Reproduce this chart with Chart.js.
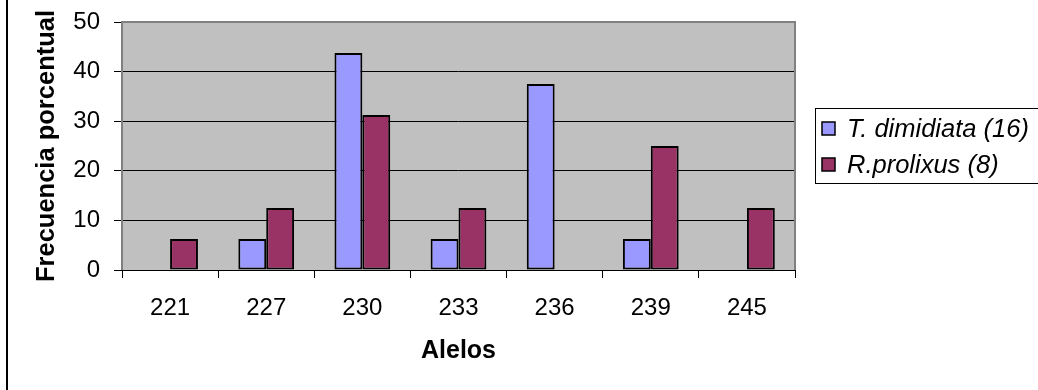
<!DOCTYPE html>
<html lang="es">
<head>
    <meta charset="UTF-8">
    <title>Frecuencia de alelos</title>
    <style>
        body {
            margin: 0;
            padding: 0;
            background-color: #ffffff;
            overflow: hidden;
        }
        #wrap {
            width: 1038px;
            height: 390px;
        }
    </style>
    <script src="https://cdn.jsdelivr.net/npm/chart.js"></script>
</head>
<body>
    <div id="wrap">
        <canvas id="alelosChart" width="1038" height="390"></canvas>
    </div>

    <script>
        // Alleles and percentage frequency per species
        const alelos = ['221', '227', '230', '233', '236', '239', '245'];
        const tDimidiata = [0, 6.25, 43.75, 6.25, 37.5, 6.25, 0];
        const rProlixus = [6.25, 12.5, 31.25, 12.5, 0, 25, 12.5];
        const seriesNames = ['T. dimidiata (16)', 'R.prolixus (8)'];
        const seriesColors = ['#9999FF', '#993366'];
        const yTicks = [0, 10, 20, 30, 40, 50];

        const FONT = "'Liberation Sans', Arial, sans-serif";

        // grey plot background + frame, outer border line on the left
        const plotFrame = {
            id: 'plotFrame',
            beforeDraw(chart) {
                const { ctx, chartArea: a } = chart;
                ctx.save();
                ctx.fillStyle = '#C0C0C0';
                ctx.fillRect(a.left, a.top, a.right - a.left, a.bottom - a.top);
                ctx.fillStyle = '#000000';
                ctx.fillRect(6, 0, 2, chart.height);
                ctx.restore();
            },
            afterDraw(chart) {
                const { ctx, chartArea: a } = chart;
                ctx.save();
                ctx.strokeStyle = '#808080';
                ctx.lineWidth = 2;
                ctx.beginPath();
                ctx.moveTo(a.left, a.bottom);
                ctx.lineTo(a.left, a.top);
                ctx.lineTo(a.right, a.top);
                ctx.lineTo(a.right, a.bottom);
                ctx.stroke();
                ctx.restore();
            }
        };

        // boxed legend on the right, drawn from the datasets
        const boxLegend = {
            id: 'boxLegend',
            afterDraw(chart) {
                const { ctx } = chart;
                const x = 815, y = 108, rowH = 36;
                ctx.save();
                ctx.strokeStyle = '#000000';
                ctx.lineWidth = 1;
                ctx.strokeRect(x + 0.5, y + 0.5, 260, 75);
                ctx.font = 'italic 25.5px ' + FONT;
                ctx.textBaseline = 'middle';
                chart.data.datasets.forEach((ds, i) => {
                    const cy = y + 21 + i * rowH;
                    ctx.fillStyle = ds.backgroundColor;
                    ctx.fillRect(822, cy - 7, 13, 13);
                    ctx.strokeStyle = '#000000';
                    ctx.lineWidth = 1.5;
                    ctx.strokeRect(822, cy - 7, 13, 13);
                    ctx.fillStyle = '#000000';
                    ctx.fillText(ds.label, 847, cy + 1);
                });
                ctx.restore();
            }
        };

        const ctx = document.getElementById('alelosChart').getContext('2d');

        new Chart(ctx, {
            type: 'bar',
            data: {
                labels: alelos,
                datasets: [
                    {
                        label: seriesNames[0],
                        data: tDimidiata,
                        backgroundColor: seriesColors[0],
                        borderColor: '#000000',
                        borderWidth: 2,
                        borderSkipped: false
                    },
                    {
                        label: seriesNames[1],
                        data: rProlixus,
                        backgroundColor: seriesColors[1],
                        borderColor: '#000000',
                        borderWidth: 2,
                        borderSkipped: false
                    }
                ]
            },
            options: {
                responsive: false,
                animation: false,
                devicePixelRatio: 1,
                layout: {
                    padding: { top: 22, right: 243, bottom: 0, left: 0 }
                },
                datasets: {
                    bar: {
                        categoryPercentage: 0.58,
                        barPercentage: 1
                    }
                },
                scales: {
                    x: {
                        afterFit(scale) { scale.height = 120; },
                        grid: {
                            offset: true,
                            drawOnChartArea: false,
                            drawTicks: true,
                            tickLength: 8,
                            tickColor: '#000000',
                            lineWidth: 1
                        },
                        border: { display: true, color: '#000000', width: 1 },
                        ticks: {
                            color: '#000000',
                            font: { size: 24, family: FONT },
                            padding: 16
                        },
                        title: {
                            display: true,
                            text: 'Alelos',
                            color: '#000000',
                            font: { size: 25, family: FONT, weight: 'bold' },
                            padding: { top: 0, bottom: 24 }
                        }
                    },
                    y: {
                        min: 0,
                        max: 50,
                        afterFit(scale) {
                            scale.width = 122;
                            scale.paddingTop = 0;
                            scale.paddingBottom = 0;
                        },
                        afterBuildTicks(scale) {
                            scale.ticks = yTicks.map(v => ({ value: v }));
                        },
                        grid: {
                            color: '#000000',
                            lineWidth: 1,
                            drawTicks: true,
                            tickLength: 8,
                            tickColor: '#000000'
                        },
                        border: { display: false },
                        ticks: {
                            color: '#000000',
                            font: { size: 24, family: FONT },
                            padding: 14
                        },
                        title: {
                            display: true,
                            text: 'Frecuencia porcentual',
                            color: '#000000',
                            font: { size: 25.5, family: FONT, weight: 'bold' },
                            padding: { top: 32, bottom: 0 }
                        }
                    }
                },
                plugins: {
                    legend: { display: false },
                    tooltip: { enabled: false }
                }
            },
            plugins: [plotFrame, boxLegend]
        });
    </script>
</body>
</html>
